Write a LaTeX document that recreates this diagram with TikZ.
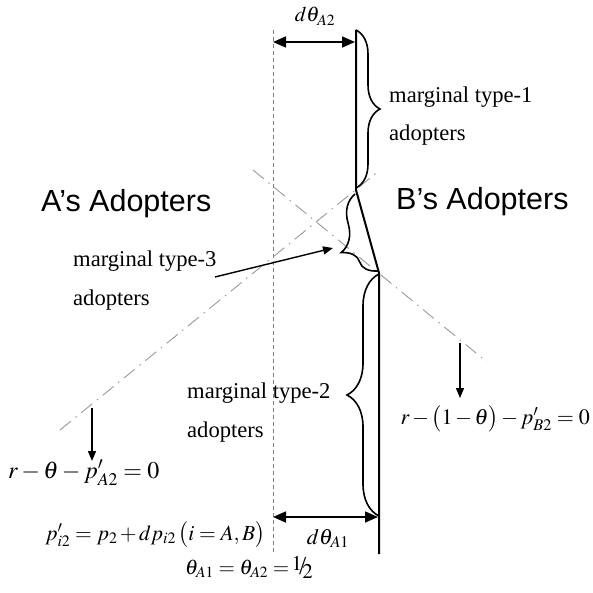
\documentclass[tikz,border=0pt]{standalone}
\usepackage{mathptmx}
\usepackage{fontspec}
\setmainfont{Liberation Serif}
\newfontfamily\arialfont{Liberation Sans}
\usetikzlibrary{arrows.meta,decorations.pathreplacing}
\newcommand{\halfslash}{\makebox{\raisebox{4pt}{$1$}\kern-3pt{\fontsize{26}{26}\selectfont/}\kern-4pt\raisebox{-4pt}{$2$}}}
\begin{document}
\begin{tikzpicture}[x=1pt,y=-1pt,
  lbl/.style={font=\fontsize{22.6}{26}\selectfont, inner sep=0pt, anchor=base west},
  big/.style={font=\arialfont\fontsize{30.5}{34}\selectfont, inner sep=0pt, anchor=base west},
  eq/.style={font=\fontsize{24}{28}\selectfont, inner sep=0pt},
  eqs/.style={font=\fontsize{21}{25}\selectfont, inner sep=0pt},
  solidline/.style={line width=2pt},
  guide/.style={gray, line width=0.8pt, dash pattern=on 4pt off 3pt},
  dashdot/.style={gray!80, line width=0.9pt, dash pattern=on 14pt off 6pt on 1.5pt off 6pt},
  bracestyle/.style={line width=1.6pt, decorate, decoration={brace, amplitude=#1}},
  dimarrow/.style={line width=1.6pt, {Triangle[length=13pt,width=11pt]}-{Triangle[length=13pt,width=11pt]}},
  ptr/.style={line width=1.4pt, -{Triangle[length=10pt,width=8pt]}},
]
\useasboundingbox (0,0) rectangle (592,593);
% main boundary line
\coordinate (t0) at (356,30);
\coordinate (t1) at (356,190);
\coordinate (b0) at (379,273);
\coordinate (b1) at (379,554);
\draw[solidline] (t0) -- (t1) -- (b0) -- (b1);
% dashed guide
\coordinate (g0) at (273,30);
\coordinate (g1) at (273,554);
\draw[guide] (g0) -- (g1);
% dash-dot demand lines
\coordinate (la0) at (60,430);
\coordinate (la1) at (380,170);
\coordinate (lb0) at (253,170);
\coordinate (lb1) at (487,362);
\draw[dashdot] (la0) -- (la1);
\draw[dashdot] (lb0) -- (lb1);
% braces
\coordinate (br1s) at (356,30);
\coordinate (br1e) at (356,188);
\draw[bracestyle=24] (br1s) -- (br1e);
\coordinate (br3s) at (378,271);
\coordinate (br3e) at (355,194);
\draw[bracestyle=30, decoration={aspect=0.35}] (br3s) -- (br3e);
\coordinate (br2s) at (379,516);
\coordinate (br2e) at (379,274);
\draw[bracestyle=32] (br2s) -- (br2e);
% dimension arrows
\coordinate (d2l) at (273,42);
\coordinate (d2r) at (355,42);
\draw[dimarrow] (d2l) -- (d2r);
\coordinate (d1l) at (273,517);
\coordinate (d1r) at (378,517);
\draw[dimarrow] (d1l) -- (d1r);
% vertical arrows
\coordinate (va0) at (92,408);
\coordinate (va1) at (92,461);
\draw[ptr] (va0) -- (va1);
\coordinate (vb0) at (460,343);
\coordinate (vb1) at (460,398);
\draw[ptr] (vb0) -- (vb1);
% pointer to type-3
\coordinate (p0) at (215,277);
\coordinate (p1) at (333,248);
\draw[ptr] (p0) -- (p1);
% texts
\node[big] (atitle) at (41,212) {A’s Adopters};
\node[big] (btitle) at (396,210) {B’s Adopters};
\node[lbl] (m1a) at (389,103) {marginal type-1};
\node[lbl] (m1b) at (389,141) {adopters};
\node[lbl] (m3a) at (73,266) {marginal type-3};
\node[lbl] (m3b) at (73,305) {adopters};
\node[lbl] (m2a) at (187,398) {marginal type-2};
\node[lbl] (m2b) at (187,437) {adopters};
\node[eq, anchor=base west] (eqA) at (8,478) {$r-\theta-p'_{A2}=0$};
\node[eq, font=\fontsize{22}{26}\selectfont, anchor=base east] (eqB) at (590,424) {\medmuskip=2mu$r-\bigl(1-\theta\bigr)-p'_{B2}=0$};
\node[eq, font=\fontsize{21.5}{26}\selectfont, anchor=base west] (eqP) at (45,540) {\medmuskip=2mu$p'_{i2}=p_2+dp_{i2}\,\bigl(i=A,B\bigr)$};
\node[eqs, anchor=base west] (eqT) at (185,574) {$\theta_{A1}=\theta_{A2}=\,$\halfslash};
\node[eqs, anchor=base] (dA2) at (315,22) {$d\theta_{A2}$};
\node[eqs, font=\fontsize{22}{25}\selectfont, anchor=base] (dA1) at (328,544) {$d\theta_{A1}$};
\end{tikzpicture}
\end{document}
